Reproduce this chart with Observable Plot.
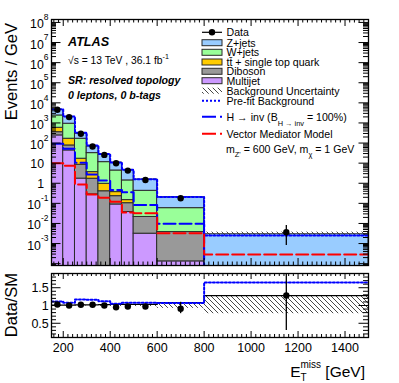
<!DOCTYPE html>
<html>
<head>
<meta charset="utf-8">
<script src="https://cdn.jsdelivr.net/npm/d3@7"></script>
<script src="https://cdn.jsdelivr.net/npm/@observablehq/plot@0.6"></script>
<style>
  html, body { margin: 0; padding: 0; background: #fff; }
  #chart { width: 399px; height: 383px; overflow: hidden; position: relative; }
  #chart svg { display: block; }
</style>
</head>
<body>
<div id="chart"></div>
<script>
// ---------------- data ----------------
const binEdges    = [150, 200, 250, 300, 350, 400, 450, 500, 600, 800, 1500];
const dataEvents  = [4500, 1950, 288, 67, 25.7, 9.9, 4.25, 1.45, 0.178, 0.0037];
const dataLow     = [4440, 1920, 280, 64, 24.2, 9.2, 3.9, 1.35, 0.152, 0.0008];
const dataHigh    = [4560, 1980, 296, 70, 27.2, 10.6, 4.6, 1.55, 0.204, 0.0079];
const zJets       = [2090, 1075, 124, 35.5, 15, 6.3, 3.09, 1.11, 0.142, 0.0029];
const wJets       = [1785, 751, 147, 28, 10.3, 3.95, 1.24, 0.4, 0.054, 0];
const topQuark    = [228, 88, 8.3, 1.9, 0.54, 0.135, 0.043, 0, 0, 0];
const diboson     = [107, 33, 6.6, 1.4, 0.4, 0.14, 0.065, 0.018, 0.0036, 0];
const multijet    = [240, 43, 1.7, 0.28, 0, 0.088, 0.037, 0.0031, 0.00013, 0];
const bkgUncLow   = [0.99, 0.99, 0.985, 0.98, 0.975, 0.97, 0.97, 0.97, 0.92, 0.77];
const bkgUncHigh  = [1.01, 1.01, 1.015, 1.02, 1.025, 1.03, 1.03, 1.03, 1.08, 1.28];
const prefitBkg   = [4750, 2100, 330, 76, 28.8, 10.9, 4.7, 1.6, 0.21, 0.0025];
const higgsInv    = [92, 52, 10.5, 2.74, 1.38, 0.46, 0.36, 0.082, 0.0097, 0];
const vectorMed   = [10, 7.4, 0.86, 0.277, 0.19, 0.12, 0.035, 0.032, 0.0033, 0.000287];
const ratioData   = [1.03, 1.0, 1.02, 1.02, 1.0, 0.95, 0.97, 0.97, 0.91, 1.28];
const ratioLow    = [1.015, 0.985, 1.0, 0.99, 0.965, 0.905, 0.92, 0.92, 0.77, 0.3];
const ratioHigh   = [1.045, 1.015, 1.04, 1.05, 1.035, 0.995, 1.02, 1.02, 1.09, 2.3];
const ratioPrefit = [1.11, 1.076, 1.17, 1.16, 1.12, 1.05, 1.076, 1.076, 1.07, 1.65];

const xTickValues   = [200, 400, 600, 800, 1000, 1200, 1400];
const yTickExps     = [-3, -2, -1, 0, 1, 2, 3, 4, 5, 6, 7, 8];
const ratioTickVals = [0.5, 1, 1.5];

const sampleNames  = ["Multijet", "Diboson", "tt\u0304 + single top quark", "W+jets", "Z+jets"];
const sampleColors = ["#cc99ff", "#999999", "#ffcc00", "#99ff99", "#99ccff"];

const legendLabels = ["Data", "Z+jets", "W+jets", "tt\u0304 + single top quark", "Diboson", "Multijet",
  "Background Uncertainty", "Pre-fit Background", "H \u2192 inv (B_{H \u2192 inv} = 100%)",
  "Vector Mediator Model", "m_{Z'} = 600 GeV, m_{\u03c7} = 1 GeV"];
const atlasLines = ["ATLAS", "\u221as = 13 TeV , 36.1 fb^{-1}", "SR: resolved topology", "0 leptons, 0 b-tags"];

// ---------------- helpers ----------------
const FONT = "'Liberation Sans', Arial, Helvetica, sans-serif";
const FLOOR = 1e-7;
const pos = v => (v > 0 ? v : FLOOR);

const bins = d3.range(binEdges.length - 1).map(i => {
  const total = multijet[i] + diboson[i] + topQuark[i] + wJets[i] + zJets[i];
  return {
    lo: binEdges[i], hi: binEdges[i + 1], mid: (binEdges[i] + binEdges[i + 1]) / 2,
    data: dataEvents[i], dLo: dataLow[i], dHi: dataHigh[i],
    total, uLo: total * bkgUncLow[i], uHi: total * bkgUncHigh[i],
    rLo: bkgUncLow[i], rHi: bkgUncHigh[i],
    ratio: ratioData[i], rdLo: ratioLow[i], rdHi: ratioHigh[i]
  };
});

const layers = [multijet, diboson, topQuark, wJets, zJets];
const stackRows = [];
bins.forEach((b, i) => {
  let cum = 0;
  layers.forEach((arr, k) => {
    const v = arr[i];
    if (v > 0) stackRows.push({x1: b.lo, x2: b.hi, y1: cum > 0 ? cum : FLOOR, y2: cum + v, sample: sampleNames[k]});
    cum += v;
  });
});

const stepRows = vals => binEdges.map((e, i) => ({x: e, y: pos(vals[Math.min(i, vals.length - 1)])}));

function rich(text, str, o) {
  const base = o.size;
  const supS = o.supSize ?? base * 0.7, subS = o.subSize ?? base * 0.7;
  const raise = o.raise ?? base * 0.62, drop = o.drop ?? base * 0.4;
  const parts = str.split(/(\^\{[^}]*\}|_\{[^}]*\})/).filter(s => s !== "");
  let cur = 0, prevKind = null;
  for (const p of parts) {
    let kind = "n", t = p, size = base, off = 0;
    if (p.startsWith("^{")) { kind = "sup"; t = p.slice(2, -1); size = supS; off = -raise; }
    else if (p.startsWith("_{")) { kind = "sub"; t = p.slice(2, -1); size = subS; off = drop; }
    const ts = text.append("tspan").attr("font-size", size).attr("dy", off - cur).text(t);
    if (o.stackW && ((kind === "sup" && prevKind === "sub") || (kind === "sub" && prevKind === "sup"))) ts.attr("dx", -o.stackW);
    cur = off; prevKind = kind;
  }
  return text;
}

const hatchDefs = id => () => {
  const defs = d3.create("svg:defs");
  const p = defs.append("pattern").attr("id", id).attr("patternUnits", "userSpaceOnUse")
    .attr("width", 5).attr("height", 5);
  p.append("path").attr("d", "M0,0L5,5M-1,4L1,6M4,-1L6,1").attr("stroke", "#333").attr("stroke-width", 0.9);
  return defs.node();
};

// tick helpers
function yTicks(values, len, fw) {
  return [
    Plot.ruleY(values, {y: d => d, insetRight: fw - len, stroke: "black", strokeWidth: 1}),
    Plot.ruleY(values, {y: d => d, insetLeft: fw - len, stroke: "black", strokeWidth: 1})
  ];
}
function xTicks(values, len, fh) {
  return [
    Plot.ruleX(values, {x: d => d, insetBottom: fh - len, stroke: "black", strokeWidth: 1}),
    Plot.ruleX(values, {x: d => d, insetTop: fh - len, stroke: "black", strokeWidth: 1})
  ];
}

const W = 399, ML = 51, MR = 31, FW = W - ML - MR;
const xMinor = d3.range(160, 1500, 20).filter(v => v % 200 !== 0);
const yMajorTop = d3.range(-4, 9).map(e => 10 ** e);
const yMinorTop = [];
for (let e = -5; e <= 8; e++) for (let k = 2; k <= 9; k++) {
  const v = k * 10 ** e; if (v > 8.1e-5 && v < 1.4e8) yMinorTop.push(v);
}
const yMinorRatio = d3.range(2, 19).map(v => v / 10).filter(v => Math.abs(v * 2 - Math.round(v * 2)) > 1e-6);

// ---------------- top panel ----------------
const TOP_H = 270, TOP_MT = 19, TOP_MB = 5, TOP_FH = TOP_H - TOP_MT - TOP_MB;

const legendMark = () => {
  const g = d3.create("svg:g").attr("font-family", FONT).attr("font-size", 10.6).attr("text-anchor", "start");
  const ys = [32.3, 42.7, 52.3, 62, 71.3, 80.7, 90.7, 100.7, 116.7, 133.7, 149];
  const sx = 202, ex = 222, tx = 226.5;
  legendLabels.forEach((lab, i) => {
    const y = ys[i];
    if (i === 0) {
      g.append("line").attr("x1", sx).attr("x2", ex).attr("y1", y).attr("y2", y).attr("stroke", "black").attr("stroke-width", 1.2);
      g.append("circle").attr("cx", (sx + ex) / 2).attr("cy", y).attr("r", 3.2).attr("fill", "black");
    } else if (i >= 1 && i <= 5) {
      g.append("rect").attr("x", sx).attr("y", y - 3).attr("width", ex - sx).attr("height", 6)
        .attr("fill", sampleColors[5 - i]).attr("stroke", "#2b2b2b").attr("stroke-width", 1);
    } else if (i === 6) {
      g.append("rect").attr("x", sx).attr("y", y - 3).attr("width", ex - sx).attr("height", 6).attr("fill", "url(#hatchTop)");
    } else if (i === 7) {
      g.append("line").attr("x1", sx).attr("x2", ex).attr("y1", y).attr("y2", y).attr("stroke", "#0000ff").attr("stroke-width", 2).attr("stroke-dasharray", "2,2");
    } else if (i === 8 || i === 9) {
      g.append("line").attr("x1", sx).attr("x2", ex).attr("y1", y).attr("y2", y)
        .attr("stroke", i === 8 ? "#0000ff" : "#ff0000").attr("stroke-width", 2).attr("stroke-dasharray", "14,4");
    }
    const t = g.append("text").attr("x", i === 10 ? 226 : tx).attr("y", y + 3.8).attr("fill", "black").attr("text-anchor", "start");
    rich(t, lab, {size: 10.6, subSize: 7.4, drop: i === 8 ? 5.5 : 4.5});
  });
  return g.node();
};

const atlasMark = () => {
  const g = d3.create("svg:g").attr("font-family", FONT).attr("fill", "black").attr("text-anchor", "start");
  g.append("text").attr("x", 68).attr("y", 45.7).attr("font-size", 12.6).attr("font-weight", "bold").attr("font-style", "italic").text(atlasLines[0]);
  rich(g.append("text").attr("x", 68).attr("y", 64), atlasLines[1], {size: 10.3, supSize: 7.2, raise: 5.5});
  g.append("text").attr("x", 68).attr("y", 83.6).attr("font-size", 10.6).attr("font-weight", "bold").attr("font-style", "italic").text(atlasLines[2]);
  g.append("text").attr("x", 68).attr("y", 98.6).attr("font-size", 10.6).attr("font-weight", "bold").attr("font-style", "italic").text(atlasLines[3]);
  g.append("text").attr("transform", "translate(16.5,23) rotate(-90)").attr("text-anchor", "end")
    .attr("font-size", 16.5).text("Events / GeV");
  return g.node();
};

const expLabels = yTickExps.filter(e => e < 0 || e > 1);
const plainLabels = yTickExps.filter(e => e === 0 || e === 1);

const topPlot = Plot.plot({
  width: W, height: TOP_H,
  marginTop: TOP_MT, marginBottom: TOP_MB, marginLeft: ML, marginRight: MR,
  style: {fontFamily: FONT, background: "white", overflow: "visible"},
  x: {domain: [150, 1500], axis: null},
  y: {type: "log", domain: [8.1e-5, 1.4e8], axis: null},
  color: {domain: sampleNames, range: sampleColors},
  marks: [
    hatchDefs("hatchTop"),
    Plot.rect(stackRows, {x1: "x1", x2: "x2", y1: "y1", y2: "y2", fill: "sample", stroke: "#2b2b2b", strokeWidth: 1, clip: true}),
    Plot.rect(bins, {x1: "lo", x2: "hi", y1: "uLo", y2: "uHi", fill: "url(#hatchTop)", clip: true}),
    Plot.line(stepRows(prefitBkg), {x: "x", y: "y", curve: "step-after", stroke: "#0000ff", strokeWidth: 2, strokeDasharray: "2,2", clip: true}),
    Plot.line(stepRows(higgsInv), {x: "x", y: "y", curve: "step-after", stroke: "#0000ff", strokeWidth: 2, strokeDasharray: "12,4", clip: true}),
    Plot.line(stepRows(vectorMed), {x: "x", y: "y", curve: "step-after", stroke: "#ff0000", strokeWidth: 2, strokeDasharray: "12,4", clip: true}),
    Plot.ruleX(bins, {x: "mid", y1: "dLo", y2: "dHi", stroke: "black", strokeWidth: 1.3, clip: true}),
    Plot.dot(bins, {x: "mid", y: "data", r: 3.2, fill: "black"}),
    ...yTicks(yMajorTop, 9.5, FW),
    ...yTicks(yMinorTop, 5, FW),
    ...xTicks(xTickValues, 7, TOP_FH),
    ...xTicks(xMinor, 3.5, TOP_FH),
    Plot.frame({stroke: "black", strokeWidth: 1.3}),
    Plot.text(expLabels, {y: e => 10 ** e, text: e => `10^{${e}}`, frameAnchor: "left", dx: -3, dy: 6, textAnchor: "end", lineAnchor: "bottom", fontSize: 12.3, fill: "black"}),
    Plot.text(plainLabels, {y: e => 10 ** e, text: e => String(10 ** e), frameAnchor: "left", dx: -7.5, dy: 4.4, textAnchor: "end", lineAnchor: "bottom", fontSize: 12.3, fill: "black"}),
    atlasMark,
    legendMark
  ]
});

// ---------------- ratio panel ----------------
const BOT_H = 113, BOT_MT = 3, BOT_MB = 46, BOT_FH = BOT_H - BOT_MT - BOT_MB;

const ratioTitles = () => {
  const g = d3.create("svg:g").attr("font-family", FONT).attr("fill", "black");
  g.append("text").attr("transform", "translate(16.5,3) rotate(-90)").attr("text-anchor", "end")
    .attr("font-size", 16.5).text("Data/SM");
  const t = g.append("text").attr("x", 365).attr("y", 106.5).attr("text-anchor", "end");
  rich(t, "E_{T}^{miss} [GeV]", {size: 15.5, subSize: 10, supSize: 10, drop: 4.5, raise: 8.5, stackW: 6.1});
  return g.node();
};

const bottomPlot = Plot.plot({
  width: W, height: BOT_H,
  marginTop: BOT_MT, marginBottom: BOT_MB, marginLeft: ML, marginRight: MR,
  style: {fontFamily: FONT, background: "white", overflow: "visible"},
  x: {domain: [150, 1500], axis: null},
  y: {domain: [0.1, 1.9], axis: null},
  marks: [
    hatchDefs("hatchBot"),
    Plot.rect(bins, {x1: "lo", x2: "hi", y1: "rLo", y2: "rHi", fill: "url(#hatchBot)", clip: true}),
    Plot.line(stepRows(bkgUncHigh), {x: "x", y: "y", curve: "step-after", stroke: "black", strokeWidth: 1.3, clip: true}),
    Plot.line(stepRows(ratioPrefit), {x: "x", y: "y", curve: "step-after", stroke: "#0000ff", strokeWidth: 2, strokeDasharray: "2,2", clip: true}),
    Plot.ruleX(bins, {x: "mid", y1: "rdLo", y2: "rdHi", stroke: "black", strokeWidth: 1.3, clip: true}),
    Plot.dot(bins, {x: "mid", y: "ratio", r: 3.2, fill: "black"}),
    ...yTicks(ratioTickVals, 9.5, FW),
    ...yTicks(yMinorRatio, 5, FW),
    ...xTicks(xTickValues, 6, BOT_FH),
    ...xTicks(xMinor, 3, BOT_FH),
    Plot.frame({stroke: "black", strokeWidth: 1.3}),
    Plot.text(ratioTickVals, {y: d => d, text: d => String(d), frameAnchor: "left", dx: -2.7, dy: 4.4, textAnchor: "end", lineAnchor: "bottom", fontSize: 12.5, fill: "black"}),
    Plot.text(xTickValues, {x: d => d, text: d => String(d), frameAnchor: "bottom", dy: 14, lineAnchor: "bottom", fontSize: 12.5, fill: "black"}),
    ratioTitles
  ]
});

const chart = document.getElementById("chart");
chart.append(topPlot, bottomPlot);

// superscripts in Plot-made tick labels
d3.select(topPlot).selectAll("text").each(function () {
  const s = this.textContent;
  if (/\^\{/.test(s) && !this.querySelector("tspan")) {
    this.textContent = "";
    rich(d3.select(this), s, {size: 12.3, supSize: 8.5, raise: 8.3});
  }
});
</script>
</body>
</html>
